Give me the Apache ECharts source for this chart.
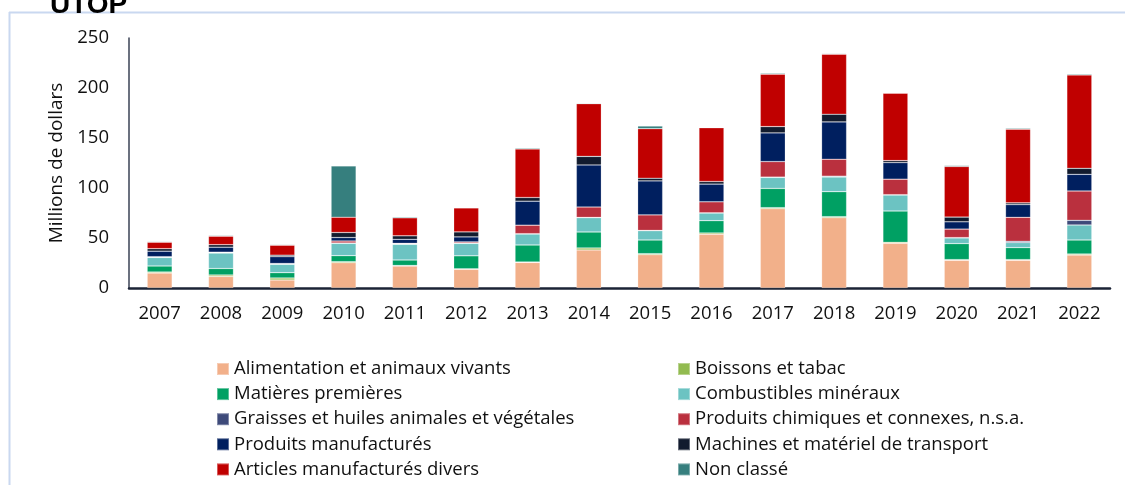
<!DOCTYPE html>
<html><head><meta charset="utf-8">
<script src="https://cdn.jsdelivr.net/npm/echarts@6/dist/echarts.min.js"></script>
<style>html,body{margin:0;padding:0;background:#fff;}#c{width:1125px;height:485px;}</style>
</head><body><div id="c"></div>
<script>
const years = ['2007','2008','2009','2010','2011','2012','2013','2014','2015','2016','2017','2018','2019','2020','2021','2022'];
const seriesNames = ['Alimentation et animaux vivants','Boissons et tabac','Matières premières','Combustibles minéraux','Graisses et huiles animales et végétales','Produits chimiques et connexes, n.s.a.','Produits manufacturés','Machines et matériel de transport','Articles manufacturés divers','Non classé'];
const alimentation   = [15, 11.5, 8, 25.3, 22, 18.7, 25.5, 38, 33.3, 53.7, 79.3, 70.3, 44.7, 27.7, 27.7, 33];
const boissons       = [1, 1.5, 2, 1, 0.5, 0.5, 0.5, 2, 1, 1.3, 1, 1, 1, 0.7, 0.7, 1];
const matieres       = [6, 6.5, 5.3, 6, 5.5, 13, 17, 16, 13.7, 12.3, 19.3, 25, 31.3, 16, 12, 14];
const combustibles   = [8.5, 15.5, 8.4, 12.4, 15.7, 12.4, 11, 14.3, 9.3, 7.7, 11, 14.7, 16, 5.7, 5, 15];
const graisses       = [0.3, 0.3, 0.3, 0.3, 0.3, 0.3, 0.3, 0.3, 0.3, 0.2, 0.3, 0.8, 0.3, 0.3, 1.3, 4.7];
const chimiques      = [0.5, 0.5, 0.5, 2, 0.7, 1.2, 8.5, 10.4, 15.5, 11, 15.5, 17, 15.5, 8.5, 24, 29.3];
const manufactures   = [5.5, 5, 6.8, 3.5, 4, 5, 24, 42, 34, 17.7, 28.7, 37.3, 16.6, 7.3, 12.7, 16.7];
const machines       = [2.5, 2.5, 1.5, 5, 3.5, 5, 3.7, 8.6, 2.7, 2.6, 6.3, 7.7, 2, 4.7, 1.7, 6];
const articles       = [6.5, 8.5, 10, 15.3, 18, 24, 48.5, 52.7, 49.5, 53.7, 52.4, 60, 67.4, 50.6, 73.7, 93.3];
const nonClasse      = [0.7, 0.8, 0.7, 51.3, 1, 0.5, 1, 0.7, 2.7, 0.6, 1, 0.7, 0.6, 1, 1, 1];
const yTicks = [0, 50, 100, 150, 200, 250];

const dataSets = [alimentation, boissons, matieres, combustibles, graisses, chimiques, manufactures, machines, articles, nonClasse];
const colors = ['#F2B08A','#92BB50','#00A063','#6CC3C2','#3E4A7A','#BA303E','#001F5F','#121B2E','#C00000','#367F7E'];
const FONT = '"Open Sans", "Liberation Sans", sans-serif';
const FS = 18.5;

const chart = echarts.init(document.getElementById('c'), null, {renderer:'canvas'});
const series = dataSets.map((d, i) => ({
  name: seriesNames[i], type: 'bar', stack: 'total', data: d, barWidth: 25,
  itemStyle: { color: colors[i], borderColor: 'rgba(255,255,255,0.35)', borderWidth: 0.6 },
  emphasis: { disabled: true }
}));
const legendCommon = {
  orient: 'vertical', itemWidth: 12, itemHeight: 12, itemGap: 6.1, icon: 'rect',
  padding: 0, height: 140,
  textStyle: { fontFamily: FONT, fontSize: FS, color: '#111' },
  selectedMode: false
};
chart.setOption({
  animation: false,
  color: colors,
  grid: { left: 129, right: 15, top: 38, bottom: 197 },
  legend: [
    Object.assign({}, legendCommon, { left: 216, top: 359.5, data: [0,2,4,6,8].map(i => seriesNames[i]) }),
    Object.assign({}, legendCommon, { left: 677, top: 359.5, data: [1,3,5,7,9].map(i => seriesNames[i]) })
  ],
  xAxis: {
    type: 'category', data: years,
    axisLine: { lineStyle: { color: '#1B2336', width: 2.5 } },
    axisTick: { show: false },
    axisLabel: { fontFamily: FONT, fontSize: FS, color: '#111', margin: 16 }
  },
  yAxis: {
    type: 'value', min: yTicks[0], max: yTicks[yTicks.length-1], interval: 50,
    name: 'Millions de dollars', nameLocation: 'middle', nameGap: 60, nameRotate: 90,
    nameTextStyle: { fontFamily: FONT, fontSize: 19, color: '#111' },
    axisLine: { show: true, lineStyle: { color: '#3A4255', width: 1.5 } },
    axisTick: { show: false },
    splitLine: { show: false },
    axisLabel: { fontFamily: FONT, fontSize: FS, color: '#111', margin: 20 }
  },
  series: series,
  graphic: [
    { type: 'line', shape: { x1: 9, y1: 12.5, x2: 1125, y2: 12.5 }, style: { stroke: '#C9D8F0', lineWidth: 2 } },
    { type: 'line', shape: { x1: 9.5, y1: 12, x2: 9.5, y2: 485 }, style: { stroke: '#C9D8F0', lineWidth: 2 } },
    { type: 'text', left: 50, top: -9, style: { text: 'UTOP', font: 'bold 28px "Liberation Sans", Arial, sans-serif', fill: '#000' } }
  ]
});
</script></body></html>
